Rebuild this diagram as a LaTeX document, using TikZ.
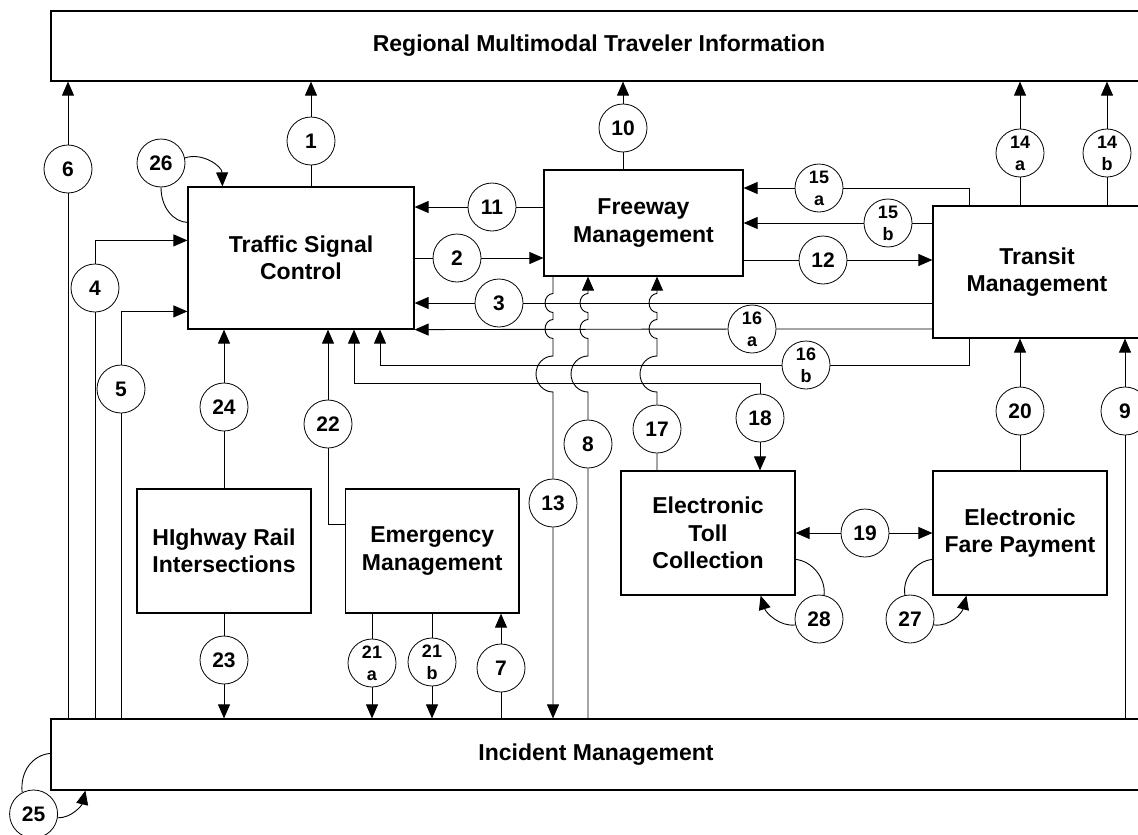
\documentclass[tikz,border=0pt]{standalone}
\usepackage{fontspec}
\setmainfont{Liberation Sans}
\usetikzlibrary{arrows.meta}
\begin{document}
\begin{tikzpicture}[x=1pt,y=-1pt,
  box/.style={draw, line width=1.2pt, align=center, inner sep=0pt,
    font=\fontsize{23}{27.5}\selectfont\bfseries},
  num/.style={draw, circle, line width=0.8pt, minimum size=48pt, inner sep=0pt,
    fill=white, font=\fontsize{21}{24}\selectfont\bfseries},
  numab/.style={num, align=center, font=\fontsize{18}{22}\selectfont\bfseries},
  link/.style={line width=0.9pt},
  arr/.style={link, -{Triangle[length=14pt,width=12pt]}}]
\useasboundingbox (0,0) rectangle (1138,835);
\clip (0,0) rectangle (1138,835);
\fill[white] (0,0) rectangle (1138,835);

% boxes
\node[box, minimum width=1096pt, minimum height=70pt] (top) at (599,46) {Regional Multimodal Traveler Information};
\node[box, minimum width=1090pt, minimum height=71pt] (im) at (596,754.5) {Incident Management};
\node[box, minimum width=226pt, minimum height=142pt] (tsc) at (301,258) {Traffic Signal\\Control};
\node[box, minimum width=199pt, minimum height=106pt] (fw) at (643.5,223) {Freeway\\Management};
\node[box, minimum width=208pt, minimum height=132pt] (tr) at (1037,272) {Transit\\Management};
\node[box, minimum width=174pt, minimum height=124pt] (hri) at (224,551) {HIghway Rail\\Intersections};
\node[box, minimum width=173.5pt, minimum height=124pt] (em) at (432.25,551) {Emergency\\Management};
\node[box, minimum width=174pt, minimum height=124pt] (etc) at (708,533) {Electronic\\Toll\\Collection};
\node[box, minimum width=174pt, minimum height=124pt] (efp) at (1020,533) {Electronic\\Fare Payment};

% number circles
\node[num] (c1) at (311,141) {1};
\node[num] (c2) at (457,258) {2};
\node[num] (c3) at (499,303) {3};
\node[num] (c4) at (95,288) {4};
\node[num] (c5) at (121,389) {5};
\node[num] (c6) at (68,169) {6};
\node[num] (c7) at (501,668) {7};
\node[num] (c8) at (588,444) {8};
\node[num] (c9) at (1125,411) {9};
\node[num] (c10) at (623,128) {10};
\node[num] (c11) at (492,207) {11};
\node[num] (c12) at (823,260) {12};
\node[num] (c13) at (553,503) {13};
\node[numab] (c14a) at (1020,153) {14\\a};
\node[numab] (c14b) at (1107,153) {14\\b};
\node[numab] (c15a) at (819,188) {15\\a};
\node[numab] (c15b) at (888,223) {15\\b};
\node[numab] (c16a) at (752,329) {16\\a};
\node[numab] (c16b) at (806,365) {16\\b};
\node[num] (c17) at (657,429) {17};
\node[num] (c18) at (760,418) {18};
\node[num] (c19) at (865,533) {19};
\node[num] (c20) at (1020,411) {20};
\node[numab] (c21a) at (372,663) {21\\a};
\node[numab] (c21b) at (432,662) {21\\b};
\node[num] (c22) at (328,424) {22};
\node[num] (c23) at (224,660) {23};
\node[num] (c24) at (224,407) {24};
\node[num] (c25) at (33.6,814) {25};
\node[num] (c26) at (161,163) {26};
\node[num] (c27) at (910,619) {27};
\node[num] (c28) at (819,619) {28};

% helper coordinates
\coordinate (t4) at ([yshift=-54pt]tsc.north west);
\coordinate (t5) at ([yshift=-125pt]tsc.north west);
\coordinate (k15) at (969,188);
\coordinate (k16) at (969,365);
\coordinate (j16) at (380,365);
\coordinate (j18) at (354,383);
\coordinate (k18) at (760,383);
\coordinate (j22) at (328,524);

% straight connectors
\draw[arr] (c1 |- tsc.north) -- (c1) -- (c1 |- top.south);
\draw[arr] (tsc.east |- c2) -- (c2) -- (fw.west |- c2);
\draw[arr] (tr.west |- c3) -- (c3) -- (tsc.east |- c3);
\draw[arr] (c4 |- im.north) -- (c4) -- (c4 |- t4) -- (t4);
\draw[arr] (c5 |- im.north) -- (c5) -- (c5 |- t5) -- (t5);
\draw[arr] (c6 |- im.north) -- (c6) -- (c6 |- top.south);
\draw[arr] (c7 |- im.north) -- (c7) -- (c7 |- em.south);
\draw[arr] (c9 |- im.north) -- (c9) -- (c9 |- tr.south);
\draw[arr] (c10 |- fw.north) -- (c10) -- (c10 |- top.south);
\draw[arr] (fw.west |- c11) -- (c11) -- (tsc.east |- c11);
\draw[arr] (fw.east |- c12) -- (c12) -- (tr.west |- c12);
\draw[arr] (c14a |- tr.north) -- (c14a) -- (c14a |- top.south);
\draw[arr] (c14b |- tr.north) -- (c14b) -- (c14b |- top.south);
\draw[arr] (k15 |- tr.north) -- (k15) -- (c15a) -- (fw.east |- k15);
\draw[arr] (tr.west |- c15b) -- (c15b) -- (fw.east |- c15b);
\draw[arr] (tr.west |- c16a) -- (c16a) -- (tsc.south east);
\draw[arr] (k16 |- tr.south) -- (k16) -- (c16b) -- (j16) -- (j16 |- tsc.south);
\draw[arr] (c18) -- (k18) -- (j18) -- (j18 |- tsc.south);
\draw[arr] (c18) -- (c18 |- etc.north);
\draw[arr] (c19) -- (etc.east |- c19);
\draw[arr] (c19) -- (efp.west |- c19);
\draw[arr] (c20 |- efp.north) -- (c20) -- (c20 |- tr.south);
\draw[arr] (c21a |- em.south) -- (c21a) -- (c21a |- im.north);
\draw[arr] (c21b |- em.south) -- (c21b) -- (c21b |- im.north);
\draw[arr] (em.west |- j22) -- (j22) -- (c22) -- (c22 |- tsc.south);
\draw[arr] (c23 |- hri.south) -- (c23) -- (c23 |- im.north);
\draw[arr] (c24 |- hri.north) -- (c24) -- (c24 |- tsc.south);

% connectors with line hops
\draw[arr] (c13 |- fw.south) -- (553,293.5)
  .. controls (548.6,293.5) and (545,297.8) .. (545,303) .. controls (545,308.2) and (548.6,312.5) .. (553,312.5)
  -- (553,319.5)
  .. controls (548.6,319.5) and (545,323.8) .. (545,329) .. controls (545,334.2) and (548.6,338.5) .. (553,338.5)
  -- (553,356)
  .. controls (543.6,356) and (536,364.1) .. (536,374) .. controls (536,383.9) and (543.6,392) .. (553,392)
  -- (c13) -- (c13 |- im.north);
\draw[arr] (c8 |- im.north) -- (c8) -- (588,392)
  .. controls (578.6,392) and (571,383.9) .. (571,374) .. controls (571,364.1) and (578.6,356) .. (588,356)
  -- (588,338.5)
  .. controls (583.6,338.5) and (580,334.2) .. (580,329) .. controls (580,323.8) and (583.6,319.5) .. (588,319.5)
  -- (588,312.5)
  .. controls (583.6,312.5) and (580,308.2) .. (580,303) .. controls (580,297.8) and (583.6,293.5) .. (588,293.5)
  -- (c8 |- fw.south);
\draw[arr] (c17 |- etc.north) -- (c17) -- (657,392)
  .. controls (647.6,392) and (640,383.9) .. (640,374) .. controls (640,364.1) and (647.6,356) .. (657,356)
  -- (657,338.5)
  .. controls (652.6,338.5) and (649,334.2) .. (649,329) .. controls (649,323.8) and (652.6,319.5) .. (657,319.5)
  -- (657,312.5)
  .. controls (652.6,312.5) and (649,308.2) .. (649,303) .. controls (649,297.8) and (652.6,293.5) .. (657,293.5)
  -- (c17 |- fw.south);

% self loops
\draw[arr] (c26.12) .. controls (202,152) and (222,166) .. ([xshift=35pt]tsc.north west);
\draw[link] (c26.south) .. controls (161,208) and (174,222) .. ([yshift=-36pt]tsc.north west);
\draw[link] (c25.118) .. controls (20,772) and (32,755) .. ([yshift=-35pt]im.north west);
\draw[arr] (c25.-9) .. controls (72,818) and (82,805) .. ([xshift=35pt]im.south west);
\draw[link] (c28.78) .. controls (826,578) and (812,561) .. ([yshift=-89pt]etc.north east);
\draw[arr] (c28.194) .. controls (780,627) and (766,613) .. ([xshift=-35pt]etc.south east);
\draw[link] (c27.102) .. controls (902,578) and (916,561) .. ([yshift=-89pt]efp.north west);
\draw[arr] (c27.-14) .. controls (950,627) and (962,613) .. ([xshift=34pt]efp.south west);
\end{tikzpicture}
\end{document}
